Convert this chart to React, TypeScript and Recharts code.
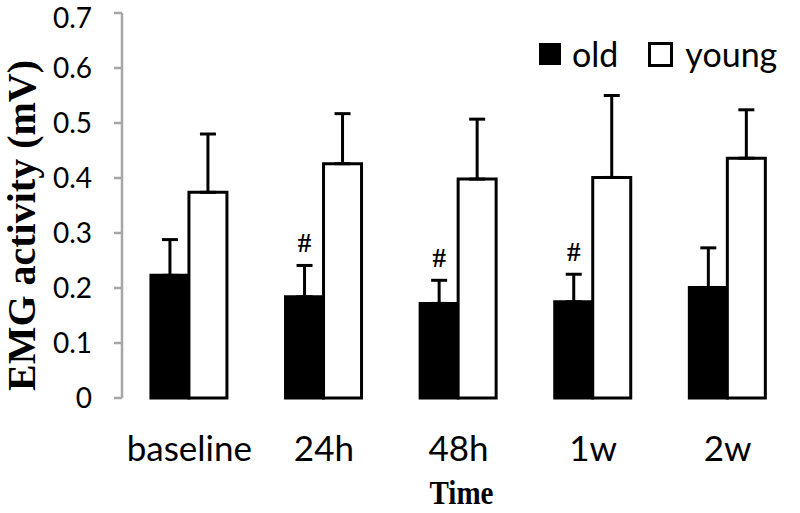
import React from "react";
import { BarChart, Bar, XAxis, YAxis, ErrorBar, Legend, LabelList, Label } from "recharts";

const times = ["baseline", "24h", "48h", "1w", "2w"];
const oldMean = [0.223, 0.184, 0.172, 0.175, 0.201];
const oldSd = [0.065, 0.057, 0.042, 0.05, 0.072];
const youngMean = [0.374, 0.426, 0.398, 0.401, 0.436];
const youngSd = [0.106, 0.091, 0.109, 0.149, 0.088];
const sigMarks = ["", "#", "#", "#", ""];
const yTicks = [0, 0.1, 0.2, 0.3, 0.4, 0.5, 0.6, 0.7];
const boundaryTicks = [0, 1, 2, 3, 4, 5];

const data = times.map((t, i) => ({
  time: t,
  old: oldMean[i],
  oldErr: [0, oldSd[i]],
  young: youngMean[i],
  youngErr: [0, youngSd[i]],
  sig: sigMarks[i],
}));

const axisGray = "#a6a6a6";
const sansFont = "Lato, 'Open Sans', sans-serif";
const serifFont = "'Liberation Serif', 'Times New Roman', serif";

const SigLabel = (props: any) => {
  const vb = props.viewBox ?? props;
  const i = props.index;
  if (!sigMarks[i]) return null;
  const pxPerUnit = vb.height / oldMean[i];
  const capY = vb.y - oldSd[i] * pxPerUnit;
  return (
    <text
      x={vb.x + vb.width / 2}
      y={capY - 13}
      textAnchor="middle"
      fontSize={27}
      fontWeight="bold"
      fontFamily={serifFont}
      fill="#000"
    >
      {sigMarks[i]}
    </text>
  );
};

// y tick text; the top one is nudged down so it stays inside the page
const YTick = (props: any) => {
  const v = props.payload.value;
  const top = v === yTicks[yTicks.length - 1];
  return (
    <text
      x={props.x}
      y={props.y + (top ? 5 : 0)}
      dy="0.355em"
      textAnchor="end"
      fontSize={28}
      fontFamily={sansFont}
      fill="#000"
    >
      {v === 0 ? "0" : v.toFixed(1)}
    </text>
  );
};

const LegendContent = () => (
  <div style={{ display: "flex", alignItems: "center", fontFamily: sansFont, fontSize: 34, color: "#000" }}>
    <span style={{ width: 22, height: 22, background: "#000", display: "inline-block" }} />
    <span style={{ marginLeft: 11, lineHeight: "34px" }}>old</span>
    <span
      style={{
        width: 19,
        height: 19,
        border: "3px solid #000",
        background: "#fff",
        display: "inline-block",
        marginLeft: 30,
      }}
    />
    <span style={{ marginLeft: 12, lineHeight: "34px" }}>young</span>
  </div>
);

export default function App() {
  return (
    <div style={{ position: "absolute", left: 0, top: 0, background: "#fff" }}>
      <BarChart
        width={800}
        height={513}
        data={data}
        margin={{ top: 13, right: 5, left: 0, bottom: 0 }}
        barCategoryGap="21.5%"
        barGap={0}
      >
        <XAxis
          xAxisId="grid"
          type="number"
          domain={[0, 5]}
          ticks={boundaryTicks}
          height={0}
          tickSize={11}
          tickFormatter={() => ""}
          axisLine={{ stroke: axisGray, strokeWidth: 2.5 }}
          tickLine={{ stroke: axisGray, strokeWidth: 2.5 }}
        />
        <XAxis
          xAxisId="cat"
          dataKey="time"
          height={115}
          axisLine={false}
          tickLine={false}
          tickSize={0}
          tickMargin={38}
          interval={0}
          tick={{ fontSize: 35, fill: "#000", fontFamily: sansFont }}
        >
          <Label
            content={(p: any) => {
              const vb = p.viewBox;
              return (
                <text
                  x={vb.x + vb.width / 2 + 3}
                  y={vb.y + 106}
                  textAnchor="middle"
                  fontSize={34}
                  fontWeight="bold"
                  fontFamily={serifFont}
                  fill="#000"
                  textLength={64}
                  lengthAdjust="spacingAndGlyphs"
                >
                  Time
                </text>
              );
            }}
          />
        </XAxis>
        <YAxis
          width={122}
          domain={[0, 0.7]}
          ticks={yTicks}
          tickSize={8}
          tickMargin={22}
          axisLine={{ stroke: axisGray, strokeWidth: 2.5 }}
          tickLine={{ stroke: axisGray, strokeWidth: 2.5 }}
          tick={<YTick />}
        >
          <Label
            content={(p: any) => {
              const vb = p.viewBox;
              const cx = vb.x + 35;
              const cy = vb.y + vb.height / 2 + 20;
              return (
                <text
                  x={cx}
                  y={cy}
                  transform={`rotate(-90 ${cx} ${cy})`}
                  textAnchor="middle"
                  fontSize={40}
                  fontWeight="bold"
                  fontFamily={serifFont}
                  fill="#000"
                >
                  EMG activity (mV)
                </text>
              );
            }}
          />
        </YAxis>
        <Legend
          layout="horizontal"
          verticalAlign="middle"
          align="center"
          content={<LegendContent />}
          wrapperStyle={{ position: "absolute", top: 37, left: 539, width: 260, height: 34 }}
        />
        <Bar
          xAxisId="cat"
          dataKey="old"
          name="old"
          fill="#000"
          stroke="#000"
          strokeWidth={3}
          isAnimationActive={false}
        >
          <ErrorBar dataKey="oldErr" width={8} strokeWidth={3} stroke="#000" isAnimationActive={false} />
          <LabelList dataKey="sig" content={SigLabel} />
        </Bar>
        <Bar
          xAxisId="cat"
          dataKey="young"
          name="young"
          fill="#fff"
          stroke="#000"
          strokeWidth={3}
          isAnimationActive={false}
        >
          <ErrorBar dataKey="youngErr" width={8} strokeWidth={3} stroke="#000" isAnimationActive={false} />
        </Bar>
      </BarChart>
    </div>
  );
}
